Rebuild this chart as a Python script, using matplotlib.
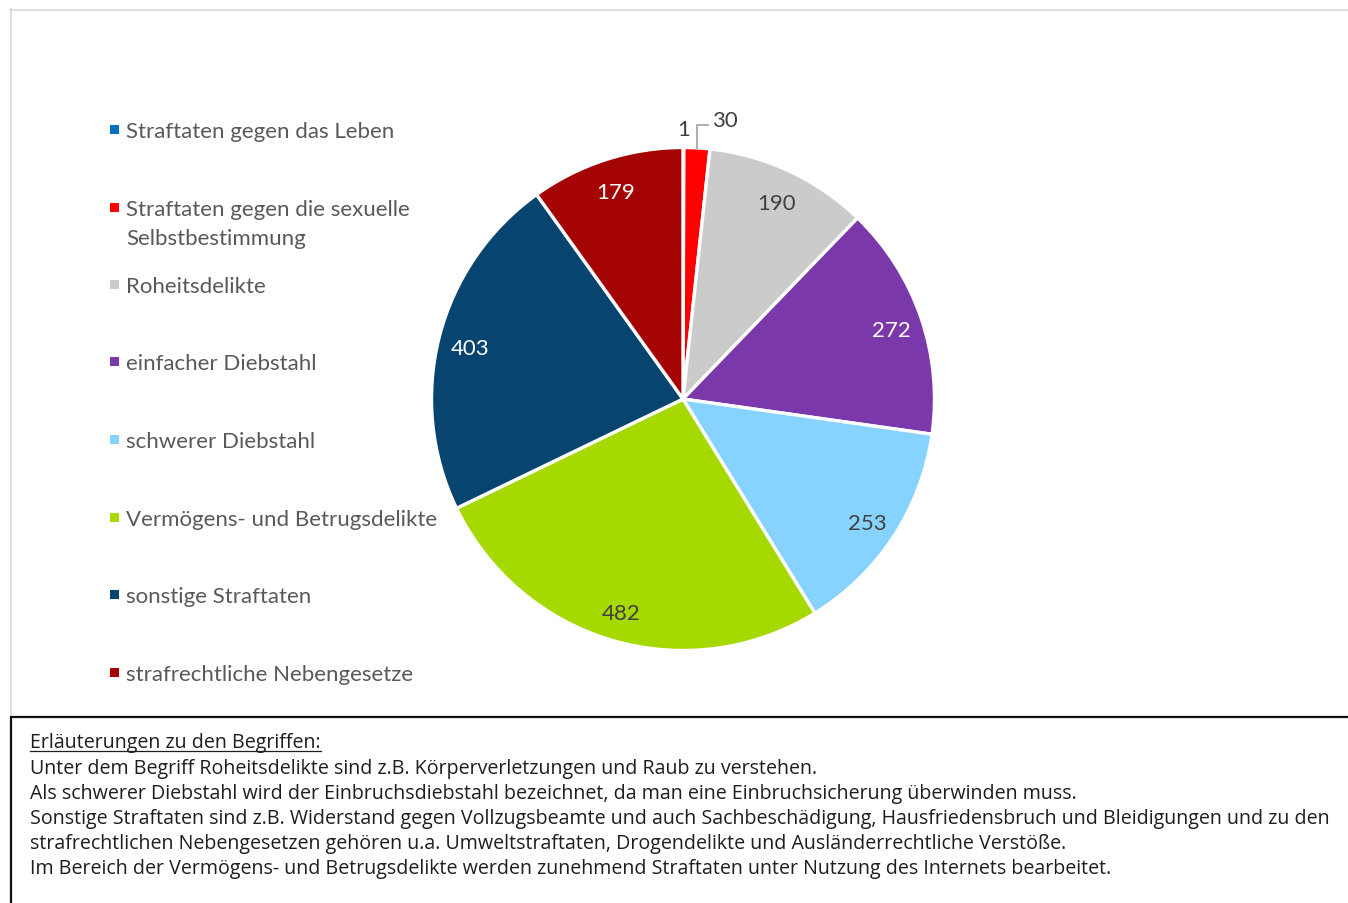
import numpy as np
import matplotlib
matplotlib.use("Agg")
import matplotlib.pyplot as plt

categories = [
    "Straftaten gegen das Leben",
    "Straftaten gegen die sexuelle\nSelbstbestimmung",
    "Roheitsdelikte",
    "einfacher Diebstahl",
    "schwerer Diebstahl",
    "Vermögens- und Betrugsdelikte",
    "sonstige Straftaten",
    "strafrechtliche Nebengesetze",
]
values = [1, 30, 190, 272, 253, 482, 403, 179]
colors = ["#0070C0", "#FF0000", "#CBCBCB", "#7A38AA", "#87D3FF", "#A5D900", "#074570", "#A50404"]
label_colors = ["#404040", "#404040", "#404040", "#FFFFFF", "#404040", "#404040", "#FFFFFF", "#FFFFFF"]

notes_title = "Erläuterungen zu den Begriffen:"
notes = [
    "Unter dem Begriff Roheitsdelikte sind z.B. Körperverletzungen und Raub zu verstehen.",
    "Als schwerer Diebstahl wird der Einbruchsdiebstahl bezeichnet, da man eine Einbruchsicherung überwinden muss.",
    "Sonstige Straftaten sind z.B. Widerstand gegen Vollzugsbeamte und auch Sachbeschädigung, Hausfriedensbruch und Bleidigungen und zu den",
    "strafrechtlichen Nebengesetzen gehören u.a. Umweltstraftaten, Drogendelikte und Ausländerrechtliche Verstöße.",
    "Im Bereich der Vermögens- und Betrugsdelikte werden zunehmend Straftaten unter Nutzung des Internets bearbeitet.",
]

W, H = 1348, 904
fig = plt.figure(figsize=(W / 100, H / 100), dpi=100)
fig.patch.set_facecolor("white")

# overlay axes in pixel coordinates
ov = fig.add_axes([0, 0, 1, 1])
ov.set_xlim(0, W)
ov.set_ylim(H, 0)
ov.axis("off")

# borders
ov.plot([10, W], [10.5, 10.5], color="#D9D9D9", lw=1.2)
ov.plot([10.5, 10.5], [10, 717], color="#D9D9D9", lw=1.2)
ov.plot([10, W], [717.5, 717.5], color="#111111", lw=1.6, solid_capstyle="butt")
ov.plot([10.5, 10.5], [717, H], color="#111111", lw=1.6, solid_capstyle="butt")

# legend
leg_font = ["Lato", "DejaVu Sans"]
ys = [130, 208, 285, 362, 440, 518, 595, 673]
for cat, col, y in zip(categories, colors, ys):
    ov.add_patch(plt.Rectangle((110, y - 4.5), 9, 9, facecolor=col, edgecolor="none"))
    for j, part in enumerate(cat.split("\n")):
        ov.text(126, y + 2 + 29 * j, part, fontsize=16, family=leg_font, color="#595959",
                va="center")

# notes
note_font = ["Open Sans", "DejaVu Sans"]
nfs = 14.1
t0 = ov.text(30, 743, notes_title, fontsize=nfs, family=note_font, color="#1E1E1E", va="center")
for i, line in enumerate(notes):
    ov.text(30, 769 + 25.1 * i, line, fontsize=nfs, family=note_font, color="#1E1E1E", va="center")

fig.canvas.draw()
bb = t0.get_window_extent()
ov.plot([bb.x0, bb.x1], [751.5, 751.5], color="#1E1E1E", lw=0.9)

# pie axes
cx, cy, R = 683, 400, 251.5
ax = fig.add_axes([(cx - R) / W, (H - cy - R) / H, 2 * R / W, 2 * R / H])
wedges, _ = ax.pie(values, colors=colors, startangle=90, counterclock=False,
                   wedgeprops=dict(edgecolor="white", linewidth=2.4))
ax.set_xlim(-1, 1)
ax.set_ylim(-1, 1)
ax.set_aspect("equal")
ax.axis("off")

num_font = ["Lato", "DejaVu Sans"]
for i, w in enumerate(wedges):
    mid = np.deg2rad((w.theta1 + w.theta2) / 2)
    if i >= 2:
        r = 0.875
        ax.text(r * np.cos(mid), r * np.sin(mid) - 0.012, str(values[i]), ha="center", va="center",
                fontsize=16, family=num_font, color=label_colors[i])
    elif i == 1:
        x0, y0 = np.cos(mid), np.sin(mid)
        ax.plot([x0, x0, x0 + 0.044], [y0, y0 + 0.09, y0 + 0.09], color="#A6A6A6", lw=1.3,
                clip_on=False)
        ax.text(x0 + 0.06, y0 + 0.112, str(values[i]), ha="left", va="center",
                fontsize=16, family=num_font, color="#404040")
    else:
        x0, y0 = np.cos(mid), np.sin(mid)
        ax.text(x0 + 0.026, y0 + 0.072, str(values[i]), ha="right", va="center",
                fontsize=16, family=num_font, color="#404040")

fig.savefig("out.png", dpi=100, facecolor="white")
